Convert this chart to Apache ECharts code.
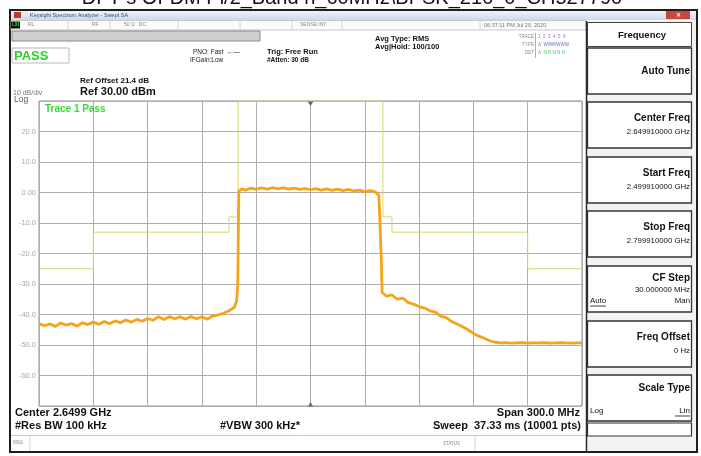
<!DOCTYPE html>
<html><head><meta charset="utf-8">
<script src="https://cdn.jsdelivr.net/npm/echarts@6/dist/echarts.min.js"></script>
<style>html,body{margin:0;padding:0;background:#fff}#c{width:701px;height:456px}</style>
</head><body><div id="c"></div>
<script>
// Frequency offset from center (2.6499 GHz), MHz
const traceFreqMHz = [
 -150,-147,-144,-141,-138,-135,-132,-129,-126,-123,
 -120,-117,-114,-111,-108,-105,-102,-99,-96,-93,
 -90,-87,-84,-81,-78,-75,-72,-69,-66,-63,
 -60,-57,-54,-51,-48,-45,-42,
 -40.8,-40.2,-39.6,
 -38,-36,-33,-30,-27,-24,-21,-18,-15,-12,-9,-6,-3,0,3,6,9,12,15,18,21,24,27,30,33,36,37.8,38.6,
 39.0,39.6,
 42,45,48,51,54,57,60,63,66,69,72,75,78,81,84,87,90,93,96,99,102,105,
 108,111,114,117,120,123,126,129,132,135,138,141,144,147,150
];
const traceLevelDbm = [
 -43.0,-43.7,-43.1,-43.9,-42.8,-43.5,-43.0,-43.8,-42.7,-43.3,
 -42.5,-43.2,-42.3,-43.0,-42.1,-42.7,-41.8,-42.5,-41.6,-42.2,
 -41.3,-41.9,-40.7,-41.6,-40.7,-41.4,-40.8,-41.5,-40.7,-41.4,
 -40.8,-41.5,-40.5,-40.1,-39.6,-38.8,-37.6,
 -35.5,-30.5,0.4,
 1.2,0.8,1.4,1.0,1.5,1.1,1.6,1.2,1.5,1.1,1.4,1.0,1.3,0.9,1.3,0.8,1.2,0.7,1.1,0.6,1.0,0.5,0.8,0.3,0.6,0.1,-0.9,-1.4,
 -20.0,-32.8,
 -34.0,-33.6,-35.0,-34.6,-36.1,-36.6,-37.4,-37.9,-38.8,-39.2,-40.6,-41.0,-42.3,-43.1,-44.0,-45.0,-46.2,-47.1,-47.8,-48.6,-49.1,-49.3,
 -49.2,-49.4,-49.3,-49.2,-49.4,-49.3,-49.3,-49.2,-49.4,-49.3,-49.2,-49.3,-49.4,-49.3,-49.3
];
// Spectrum emission mask (limit line)
const maskFreqMHz  = [-150,-120,-120,-45,-45,-40,-40,40,40,45,45,120,120,150];
const maskLevelDbm = [-25,-25,-13,-13,-8,-8,30,30,-8,-8,-13,-13,-25,-25];
// Axis settings
const yMin = -70, yMax = 30, yStep = 10;
const xMin = -150, xMax = 150, xStep = 30;

const titleText = 'DFT-s OFDM Pi/2_Band n_60MHz\\BPSK_216_0_CH527790';
const headerTexts = {
  refOffset: 'Ref Offset 21.4 dB', ref: 'Ref 30.00 dBm', scale: '10 dB/div', log: 'Log',
  pno: 'PNO: Fast  \u2190\u2014', ifgain: 'IFGain:Low', trig: 'Trig: Free Run', atten: '#Atten: 30 dB',
  avgType: 'Avg Type: RMS', avgHold: 'Avg|Hold: 100/100', pass: 'PASS', tracePass: 'Trace 1 Pass'
};
const footerTexts = {
  center: 'Center 2.6499 GHz', rbw: '#Res BW 100 kHz', vbw: '#VBW 300 kHz*',
  span: 'Span 300.0 MHz', sweep: 'Sweep  37.33 ms (10001 pts)'
};
const softkeys = [
  {label:'Auto Tune', value:''},
  {label:'Center Freq', value:'2.649910000 GHz'},
  {label:'Start Freq', value:'2.499910000 GHz'},
  {label:'Stop Freq', value:'2.799910000 GHz'},
  {label:'CF Step', value:'30.000000 MHz', left:'Auto', right:'Man'},
  {label:'Freq Offset', value:'0 Hz'},
  {label:'Scale Type', value:'', left:'Log', right:'Lin'}
];

const F = '"Liberation Sans", Arial, sans-serif';
function T(x, y, text, font, fill, align, valign) {
  return {type:'text', z:10, style:{x:x, y:y, text:text, font:font + ' ' + F, fill:fill || '#000',
    textAlign:align || 'left', textVerticalAlign:valign || 'middle'}};
}
function R(x, y, w, h, fill, stroke, lw) {
  return {type:'rect', z:5, shape:{x:x, y:y, width:w, height:h},
    style:{fill:fill || 'none', stroke:stroke || 'none', lineWidth:lw || 1}};
}
function L(x1, y1, x2, y2, stroke, lw) {
  return {type:'line', z:6, shape:{x1:x1, y1:y1, x2:x2, y2:y2}, style:{stroke:stroke, lineWidth:lw || 1}};
}

const g = [];
// title (cut at top)
g.push(T(352, 8, titleText, '20px', '#111', 'center', 'bottom'));
// window frame
g.push(R(10, 10, 687, 442, 'none', '#1e1e1e', 2));
// title bar
g.push({type:'rect', z:5, shape:{x:11, y:11, width:685, height:9},
  style:{fill:new echarts.graphic.LinearGradient(0,0,0,1,[{offset:0,color:'#eef3fb'},{offset:1,color:'#cbd9ec'}])}});
g.push(R(14, 12, 7, 6, '#c0392b'));
g.push(T(30, 15.5, 'Keysight Spectrum Analyzer - Swept SA', '5.5px', '#34487a'));
g.push(R(666, 11, 24, 8, '#c8463c'));
g.push(T(678, 15, '\u2715', 'bold 6px', '#fff', 'center'));
// toolbar row
g.push(R(11, 20.5, 575, 9.5, '#fbfbfb', '#bbb', 0.8));
g.push(R(11, 21.5, 9, 7, '#0a0a0a'));
g.push(T(15.5, 25, 'LXI', 'bold 4.5px', '#38e038', 'center'));
g.push(T(28, 25, 'RL', '5px', '#888'));
g.push(T(92, 25, 'RF', '5px', '#888'));
g.push(T(124, 25, '50 \u03a9   DC', '5px', '#888'));
g.push(T(300, 25, 'SENSE:INT', '5px', '#888'));
g.push(T(484, 25, '06:37:11 PM Jul 20, 2020', '5.5px', '#777'));
[68, 110, 178, 240, 292, 342, 480].forEach(function(x){ g.push(L(x, 21, x, 30, '#ccc', 0.8)); });
// gray bar
g.push(R(12, 31, 248, 10, '#cfcfcf', '#8a8a8a', 1));
// PASS box
g.push(R(12, 48, 57, 15, '#fff', '#b8b8b8', 1));
g.push(T(14, 56, headerTexts.pass, 'bold 13px', '#27d327'));
// settings text
g.push(T(193, 52, headerTexts.pno, '6.5px', '#222'));
g.push(T(190, 60, headerTexts.ifgain, '6.5px', '#222'));
g.push(T(267, 52, headerTexts.trig, 'bold 7.5px', '#111'));
g.push(T(267, 60, headerTexts.atten, 'bold 6.5px', '#111'));
g.push(T(375, 39, headerTexts.avgType, 'bold 7.5px', '#111'));
g.push(T(375, 47, headerTexts.avgHold, 'bold 7.5px', '#111'));
// trace block
g.push(T(534, 37, 'TRACE', '4.5px', '#888', 'right'));
g.push(T(534, 45, 'TYPE', '4.5px', '#888', 'right'));
g.push(T(534, 53, 'DET', '4.5px', '#888', 'right'));
g.push(L(535.5, 33, 535.5, 58, '#999', 0.8));
g.push(T(538, 37, '1  2  3  4  5  6', '4.5px', '#a070d0'));
g.push(T(538, 45, 'A  WWWWWW', '4.5px', '#6a6ad0'));
g.push(T(538, 53, 'A  N N N N N', '4.5px', '#4cc44c'));
// ref texts
g.push(T(80, 81, headerTexts.refOffset, 'bold 8px', '#111'));
g.push(T(80, 91.5, headerTexts.ref, 'bold 11px', '#111'));
g.push(T(13, 93, headerTexts.scale, '7px', '#777'));
g.push(T(14, 100, headerTexts.log, '8.5px', '#555'));
g.push(T(45, 109, headerTexts.tracePass, 'bold 10px', '#35db35'));
// footer
g.push(T(15, 413, footerTexts.center, 'bold 11px', '#111'));
g.push(T(15, 426, footerTexts.rbw, 'bold 11px', '#111'));
g.push(T(220, 426, footerTexts.vbw, 'bold 11px', '#111'));
g.push(T(580, 413, footerTexts.span, 'bold 11px', '#111', 'right'));
g.push(T(581, 426, footerTexts.sweep, 'bold 11px', '#111', 'right'));
g.push(L(11, 435.5, 586, 435.5, '#c8c8c8', 1));
g.push(T(13, 443, 'MSG', '4.5px', '#888'));
g.push(L(30, 436, 30, 451, '#d0d0d0', 0.8));
g.push(T(443, 444, 'STATUS', '4.5px', '#888'));
g.push(L(475, 436, 475, 451, '#c8c8c8', 0.8));
// center markers
g.push({type:'polygon', z:10, shape:{points:[[307.5,101.5],[313.5,101.5],[310.5,106]]}, style:{fill:'#6a6a6a'}});
g.push({type:'polygon', z:10, shape:{points:[[308,406.5],[313,406.5],[310.5,402]]}, style:{fill:'#6a6a6a'}});
// right softkey panel
g.push(R(586, 21, 110, 430, '#f2f2f2'));
g.push(L(586.5, 21, 586.5, 451, '#2a2a2a', 1.5));
g.push(R(587.5, 22.5, 104, 24, '#fff', '#444', 1));
g.push(T(642, 35, 'Frequency', 'bold 9.5px', '#111', 'center'));
const boxTops = [48, 102, 157, 211, 266, 321, 375];
softkeys.forEach(function(k, i){
  const y0 = boxTops[i];
  g.push(R(587.5, y0, 104, 46, '#fff', '#333', 1.3));
  if (!k.value && !k.left) {
    g.push(T(690, y0 + 23, k.label, 'bold 10px', '#111', 'right'));
  } else if (k.left && !k.value) {
    g.push(T(690, y0 + 13, k.label, 'bold 10px', '#111', 'right'));
    g.push(T(590, y0 + 36, k.left, '8px', '#111'));
    g.push(T(690, y0 + 36, k.right, '8px', '#111', 'right'));
    g.push(L(675, y0 + 41, 690, y0 + 41, '#111', 0.8));
  } else if (k.left) {
    g.push(T(690, y0 + 12, k.label, 'bold 10px', '#111', 'right'));
    g.push(T(690, y0 + 24, k.value, '7.8px', '#111', 'right'));
    g.push(T(590, y0 + 35, k.left, '7.8px', '#111'));
    g.push(T(690, y0 + 35, k.right, '7.8px', '#111', 'right'));
    g.push(L(590, y0 + 40, 606, y0 + 40, '#111', 0.8));
  } else {
    g.push(T(690, y0 + 16, k.label, 'bold 10px', '#111', 'right'));
    g.push(T(690, y0 + 30, k.value, '7.8px', '#111', 'right'));
  }
});
g.push(R(587.5, 423, 104, 13, '#fff', '#333', 1.2));

const chart = echarts.init(document.getElementById('c'), null, {renderer:'canvas'});
const traceData = traceFreqMHz.map(function(f, i){ return [f, traceLevelDbm[i]]; });
const maskData = maskFreqMHz.map(function(f, i){ return [f, maskLevelDbm[i]]; });
chart.setOption({
  animation:false,
  backgroundColor:'#fff',
  grid:{left:39, top:101, width:543, height:305, show:true, borderColor:'#8a8a8a', borderWidth:1, backgroundColor:'#fff'},
  xAxis:{type:'value', min:xMin, max:xMax, interval:xStep,
    axisLine:{show:false}, axisTick:{show:false}, axisLabel:{show:false},
    splitLine:{show:true, lineStyle:{color:'#aeaeae', width:1}}},
  yAxis:{type:'value', min:yMin, max:yMax, interval:yStep,
    axisLine:{show:false}, axisTick:{show:false},
    axisLabel:{margin:3, color:'#a8a8a8', fontSize:7.5, fontFamily:F,
      formatter:function(v){ if (v === yMax || v === yMin) return ''; return v === 0 ? '0.00' : v.toFixed(1); }},
    splitLine:{show:true, lineStyle:{color:'#aeaeae', width:1}}},
  series:[
    {type:'line', name:'Limit', data:maskData, symbol:'none', z:3,
      lineStyle:{color:'#d6d66c', width:1}},
    {type:'line', name:'Trace 1', data:traceData, symbol:'none', z:4,
      lineStyle:{color:'#f5a31a', width:2.8, join:'round'}}
  ],
  graphic:{elements:g}
});
</script></body></html>
